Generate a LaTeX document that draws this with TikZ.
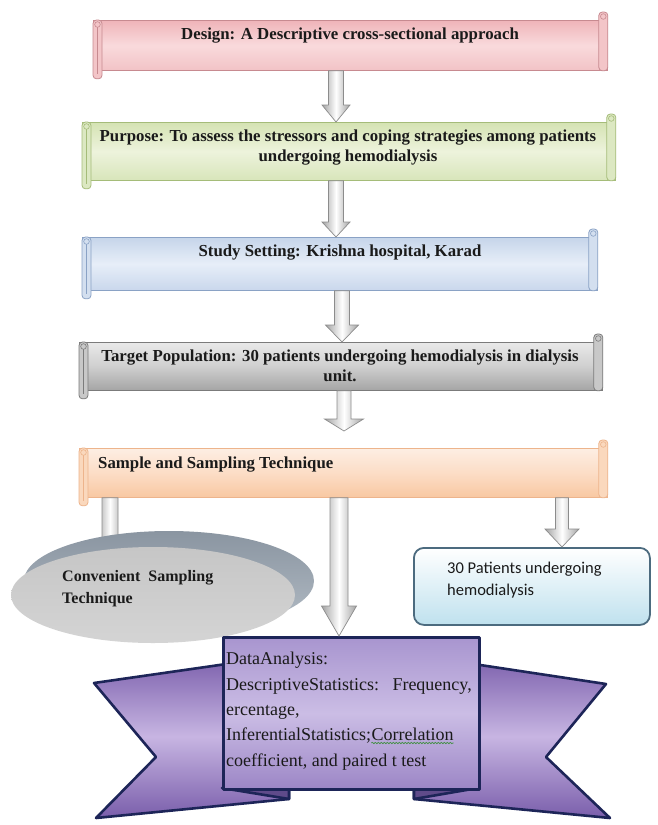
\documentclass[tikz,border=0pt]{standalone}
\usepackage{fontspec}
\setmainfont{Liberation Serif}
\newfontfamily\calibrifont{Carlito}
\usetikzlibrary{calc,shapes.geometric,decorations.pathmorphing}
\definecolor{txt}{HTML}{1A1A1A}
\definecolor{pinkT}{HTML}{EFB4B9}\definecolor{pinkM}{HTML}{F9DADC}\definecolor{pinkBt}{HTML}{F2C3C6}\definecolor{pinkB}{HTML}{C78A90}\definecolor{pinkR}{HTML}{F3C5C8}
\definecolor{grnT}{HTML}{D5E3B3}\definecolor{grnM}{HTML}{EDF3DC}\definecolor{grnBt}{HTML}{D8E5BA}\definecolor{grnB}{HTML}{A5BC79}\definecolor{grnR}{HTML}{DCE8C2}
\definecolor{bluT}{HTML}{C6D5EA}\definecolor{bluM}{HTML}{E7EEF8}\definecolor{bluBt}{HTML}{C9D7EC}\definecolor{bluB}{HTML}{8AA2C5}\definecolor{bluR}{HTML}{D3DFEF}
\definecolor{gryT}{HTML}{E9E9E9}\definecolor{gryM}{HTML}{CFCFCF}\definecolor{gryBt}{HTML}{A5A5A5}\definecolor{gryB}{HTML}{7B7B7B}\definecolor{gryR}{HTML}{C8C8C8}
\definecolor{orgT}{HTML}{FDEEE3}\definecolor{orgM}{HTML}{FCDDC6}\definecolor{orgBt}{HTML}{F8C8A2}\definecolor{orgB}{HTML}{EDB48C}\definecolor{orgR}{HTML}{FAD8BD}
\definecolor{arrgray}{HTML}{A3A3A3}\definecolor{arrbord}{HTML}{8C8C8C}
\definecolor{bandT}{HTML}{8A95A1}\definecolor{bandB}{HTML}{B3BCC5}
\definecolor{faceT}{HTML}{C6C6C6}\definecolor{faceB}{HTML}{D4D4D4}
\definecolor{ptB}{HTML}{4C6B7F}\definecolor{ptC}{HTML}{BFE1EE}
\definecolor{wingD}{HTML}{7A5EAB}\definecolor{wingL}{HTML}{C7B5E2}
\definecolor{cenT}{HTML}{A895CF}\definecolor{cenM}{HTML}{CBBDE5}\definecolor{cenB}{HTML}{9C86C6}
\definecolor{tabC}{HTML}{5F4B8A}\definecolor{banbord}{HTML}{1D2558}
\definecolor{spellgreen}{HTML}{3F8F3F}

\newcommand\scrollrolls[3]{%
  \draw[draw=#3, line width=0.8pt, fill=#2, rounded corners=3.5pt] (#1.north west) rectangle ($(#1.south west)+(9,8)$);
  \draw[draw=#3, line width=0.6pt] ($(#1.north west)+(4.5,7)$) -- ($(#1.south west)+(4.5,3)$);
  \draw[draw=#3, line width=0.6pt, fill=#2] ($(#1.north west)+(4.5,4.5)$) circle (2.8);
  \draw[draw=#3, line width=0.8pt, fill=#2, rounded corners=3.5pt] ($(#1.north east)+(-9,-8)$) rectangle (#1.south east);
  \draw[draw=#3, line width=0.6pt, fill=#2] ($(#1.north east)+(-4.5,-3.5)$) circle (2.8);
}
\newcommand\blockarrow[5]{%
  \path[blockarr] ($(#1)+(-#3,0)$) -- ($(#2)+(-#3,-#5)$) -- ($(#2)+(-#4,-#5)$) -- (#2)
     -- ($(#2)+(#4,-#5)$) -- ($(#2)+(#3,-#5)$) -- ($(#1)+(#3,0)$) -- cycle;}

\begin{document}
\begin{tikzpicture}[x=1pt,y=-1pt,
  flowtext/.style={font=\bfseries\fontsize{16.8}{20}\selectfont, text=txt, align=center, inner sep=0pt},
  bodybox/.style={anchor=north west, inner sep=0pt, line width=0.8pt},
  blockarr/.style={draw=arrbord, line width=0.7pt, left color=arrgray, right color=arrgray, middle color=white},
  ban/.style={draw=banbord, line width=2.6pt, line join=round},
  bantext/.style={font=\fontsize{18}{22}\selectfont, text=txt, inner sep=0pt, anchor=base west},
  pttext/.style={font=\calibrifont\fontsize{16.5}{20}\selectfont, text=txt, anchor=west, inner sep=0pt},
  cstext/.style={font=\bfseries\fontsize{16}{20}\selectfont, text=txt, anchor=west, inner sep=0pt},
  wavy/.style={draw=spellgreen, line width=0.7pt, decorate, decoration={snake, amplitude=0.7pt, segment length=3pt}},
]
\useasboundingbox[fill=white] (0,0) rectangle (657,825);

% ---------- scroll boxes ----------
\node[bodybox, draw=pinkB, top color=pinkT, bottom color=pinkBt, middle color=pinkM, minimum width=514pt, minimum height=50pt] (d1) at (93,20) {};
\scrollrolls{d1}{pinkR}{pinkB}
\node[flowtext] (t1) at (350,36) {Design: A Descriptive cross-sectional approach};

\node[bodybox, draw=grnB, top color=grnT, bottom color=grnBt, middle color=grnM, minimum width=533pt, minimum height=58pt] (d2) at (82,122) {};
\scrollrolls{d2}{grnR}{grnB}
\node[flowtext] (t2) at (348,148) {Purpose: To assess the stressors and coping strategies among patients\\undergoing hemodialysis};

\node[bodybox, draw=bluB, top color=bluT, bottom color=bluBt, middle color=bluM, minimum width=515pt, minimum height=53pt] (d3) at (82,237) {};
\scrollrolls{d3}{bluR}{bluB}
\node[flowtext] (t3) at (340,253) {Study Setting: Krishna hospital, Karad};

\node[bodybox, draw=gryB, top color=gryT, bottom color=gryBt, middle color=gryM, minimum width=523pt, minimum height=48pt] (d4) at (79,342) {};
\scrollrolls{d4}{gryR}{gryB}
\node[flowtext] (t4) at (340,366) {Target Population: 30 patients undergoing hemodialysis in dialysis\\unit.};

\node[bodybox, draw=orgB, top color=orgT, bottom color=orgBt, middle color=orgM, minimum width=528pt, minimum height=49pt] (d5) at (79,448) {};
\scrollrolls{d5}{orgR}{orgB}
\node[flowtext, anchor=west] (t5) at (98,465) {Sample and Sampling Technique};

% ---------- block arrows between boxes ----------
\coordinate (x1) at (336,0);
\coordinate (x3) at (342,0);
\coordinate (x4) at (344,0);
\coordinate (a1s) at (x1 |- d1.south); \coordinate (a1e) at (x1 |- d2.north);
\coordinate (a2s) at (x1 |- d2.south); \coordinate (a2e) at (x1 |- d3.north);
\coordinate (a3s) at (x3 |- d3.south); \coordinate (a3e) at (x3 |- d4.north);
\coordinate (a4s) at (x4 |- d4.south); \coordinate (a4e) at ($(x4 |- d5.north)+(0,-17)$);
\blockarrow{a1s}{a1e}{7.5}{14}{17}
\blockarrow{a2s}{a2e}{7.5}{14}{15}
\blockarrow{a3s}{a3e}{7.5}{16.5}{17}
\blockarrow{a4s}{a4e}{7}{19.5}{12}

% ---------- arrows out of sample box ----------
\coordinate (xl) at (110,0);
\coordinate (xm) at (339,0);
\coordinate (xr) at (562,0);
\coordinate (als) at (xl |- d5.south); \coordinate (ale) at (110,565);
\blockarrow{als}{ale}{8}{14}{12}

% ellipse (3D disk)
\node[ellipse, minimum width=290pt, minimum height=100pt, top color=bandT, bottom color=bandB, draw=none, inner sep=0pt] (csb) at (169,581) {};
\node[ellipse, minimum width=284pt, minimum height=96pt, top color=faceT, bottom color=faceB, draw=none, inner sep=0pt] (cs) at (153,595) {};
\node[cstext] (cs1) at (62,578) {Convenient~ Sampling};
\node[cstext] (cs2) at (62,600) {Technique};

% 30 patients box
\node[anchor=north west, draw=ptB, line width=1.8pt, rounded corners=10pt, top color=white, bottom color=ptC, minimum width=236pt, minimum height=77pt, inner sep=0pt] (pt) at (413,547) {};
\node[pttext] (pt1) at (447,569) {30 Patients undergoing};
\node[pttext] (pt2) at (447,591) {hemodialysis};

\coordinate (ars) at (xr |- d5.south); \coordinate (are) at (xr |- pt.north);
\blockarrow{ars}{are}{6.5}{17}{18}

% ---------- banner ----------
\draw[ban, top color=wingD, bottom color=wingD, middle color=wingL] (94,683) -- (289,655) -- (289,799) -- (96,818) -- (156,757) -- cycle;
\draw[ban, top color=wingD, bottom color=wingD, middle color=wingL] (606,684) -- (414,655) -- (414,799) -- (610,818) -- (546,757) -- cycle;
\draw[ban, fill=tabC] (222,788) -- (289,788) -- (289,799) -- cycle;
\draw[ban, fill=tabC] (478,788) -- (414,788) -- (414,799) -- cycle;
\node[ban, anchor=north west, top color=cenT, bottom color=cenB, middle color=cenM, minimum width=256pt, minimum height=152pt, inner sep=0pt] (da) at (222,636) {};

\coordinate (ams) at (xm |- d5.south); \coordinate (ame) at (xm |- da.north);
\blockarrow{ams}{ame}{9}{17.5}{30}

\node[bantext] (b1) at (226,664) {DataAnalysis:};
\node[bantext] (b2) at (226,690) {DescriptiveStatistics:};
\node[bantext, anchor=base east] (b2r) at (472,690) {Frequency,};
\node[bantext] (b3) at (226,715) {ercentage,};
\node[bantext] (b4) at (226,740) {InferentialStatistics;};
\node[bantext] (b4c) at (b4.base east) {Correlation};
\draw[wavy] ($(b4c.base west)+(0,3)$) -- ($(b4c.base east)+(0,3)$);
\node[bantext] (b5) at (226,766) {coefficient, and paired t test};
\end{tikzpicture}
\end{document}
